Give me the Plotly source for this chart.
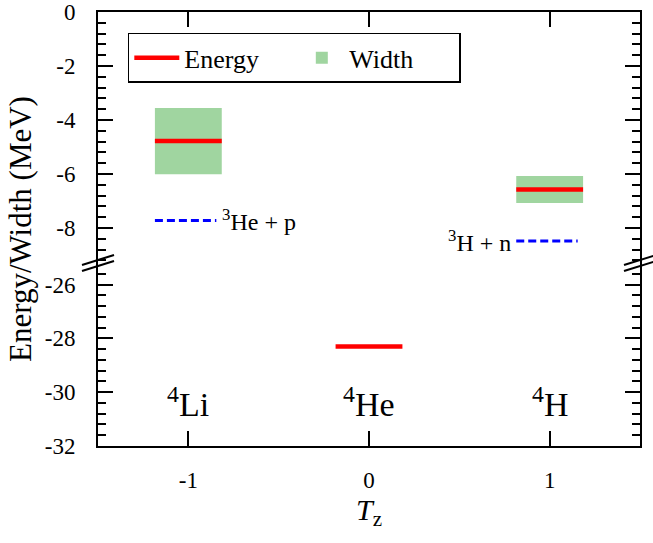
import plotly.graph_objects as go

# ---- data ----
nuclei = ["<sup>4</sup>Li", "<sup>4</sup>He", "<sup>4</sup>H"]
tz = [-1, 0, 1]
energy = [-4.78, -28.3, -6.57]
width = [2.45, 0.0, 1.0]
thr_labels = ["<sup>3</sup>He + p", "<sup>3</sup>H + n"]
thr_tz = [-1, 1]
thr_energy = [-7.72, -8.48]
y_ticks_top = [0, -2, -4, -6, -8]
y_ticks_bot = [-26, -28, -30, -32]
x_ticks = [-1, 0, 1]

BREAK = -10.0  # values below this go to the lower panel
HALF = 0.185   # half-width of level markers (in Tz units)

FONT = "Liberation Serif"
RED = "#ff0000"
GREEN = "rgb(160,213,160)"
BLUE = "#0000ff"

W, H = 653, 543
ML, MR, MT, MB = 98, 13, 12, 97
PW, PH = W - ML - MR, H - MT - MB
BREAK_PX = 263
split = 1 - (BREAK_PX - MT) / PH

fig = go.Figure()

# widths (boxes) - upper panel
bx = [t for t, w in zip(tz, width) if w > 0]
bw = [w for w in width if w > 0]
bb = [e - w / 2 for e, w in zip(energy, width) if w > 0]
fig.add_trace(go.Bar(x=bx, y=bw, base=bb, width=2 * HALF, name="Width",
                     marker=dict(color=GREEN, line=dict(width=0)),
                     xaxis="x", yaxis="y", legendrank=2, hoverinfo="skip"))

# energy levels
def seg(points):
    xs, ys = [], []
    for t, e in points:
        xs += [t - HALF, t + HALF, None]
        ys += [e, e, None]
    return xs, ys

up = [(t, e) for t, e in zip(tz, energy) if e > BREAK]
lo = [(t, e) for t, e in zip(tz, energy) if e <= BREAK]
xs, ys = seg(up)
fig.add_trace(go.Scatter(x=xs, y=ys, mode="lines", name="Energy",
                         line=dict(color=RED, width=4.5), xaxis="x", yaxis="y",
                         legendrank=1))
xs, ys = seg(lo)
fig.add_trace(go.Scatter(x=xs, y=ys, mode="lines", name="Energy", showlegend=False,
                         line=dict(color=RED, width=4.5), xaxis="x2", yaxis="y2"))

# thresholds
for lab, t, e in zip(thr_labels, thr_tz, thr_energy):
    x0 = t - HALF
    x1 = t + HALF - 0.03
    fig.add_trace(go.Scatter(x=[x0, x1], y=[e, e], mode="lines", showlegend=False,
                             line=dict(color=BLUE, width=3, dash="8px,4px"),
                             xaxis="x", yaxis="y"))
    if t < 0:
        fig.add_annotation(x=x1 + 0.02, y=e, xref="x", yref="y", text=lab,
                           showarrow=False, xanchor="left", yanchor="middle",
                           font=dict(family=FONT, size=24, color="black"))
    else:
        fig.add_annotation(x=x0 - 0.02, y=e, xref="x", yref="y", text=lab,
                           showarrow=False, xanchor="right", yanchor="middle",
                           font=dict(family=FONT, size=24, color="black"))

# nucleus labels
for lab, t in zip(nuclei, tz):
    fig.add_annotation(x=t, y=-30.35, xref="x2", yref="y2", text=lab,
                       showarrow=False, xanchor="center", yanchor="middle",
                       font=dict(family=FONT, size=34, color="black"))

# axis break marks
def px2paper(px, py):
    return (px - ML) / PW, 1 - (py - MT) / PH

for xc in (ML, ML + PW):
    for dy in (-3, 3):
        x0, y0 = px2paper(xc - 16, BREAK_PX + dy + 5)
        x1, y1 = px2paper(xc + 16, BREAK_PX + dy - 5)
        fig.add_shape(type="line", xref="paper", yref="paper",
                      x0=x0, y0=y0, x1=x1, y1=y1,
                      line=dict(color="black", width=2))

axis_common = dict(showline=True, linecolor="black", linewidth=2,
                   ticks="inside", tickcolor="black", tickwidth=2, ticklen=15,
                   showgrid=False, zeroline=False, automargin=False,
                   tickfont=dict(family=FONT, size=23, color="black"))

minor = dict(ticks="inside", dtick=0.4, tick0=0, ticklen=8, tickwidth=2,
             tickcolor="black", showgrid=False)

fig.update_layout(
    width=W, height=H,
    margin=dict(l=ML, r=MR, t=MT, b=MB, autoexpand=False),
    plot_bgcolor="white", paper_bgcolor="white",
    font=dict(family=FONT, color="black"),
    showlegend=True,
    legend=dict(orientation="h", x=0.055, y=0.952, xanchor="left", yanchor="top",
                bordercolor="black", borderwidth=1.5, bgcolor="white",
                font=dict(family=FONT, size=26, color="black"),
                itemwidth=45, traceorder="normal", entrywidth=105),
    xaxis=dict(domain=[0, 1], anchor="y", side="top", range=[-1.5, 1.5],
               tickvals=x_ticks, showticklabels=False, mirror=False,
               **axis_common),
    xaxis2=dict(domain=[0, 1], anchor="y2", side="bottom", range=[-1.5, 1.5],
                matches="x", tickvals=x_ticks, ticktext=[str(v) for v in x_ticks],
                ticklabelstandoff=12, mirror=False,
                title=dict(text="<i>T</i><sub>z</sub>", standoff=4,
                           font=dict(family=FONT, size=30, color="black")),
                **axis_common),
    yaxis=dict(domain=[split, 1], anchor="x", range=[-(BREAK_PX - MT) / 27.0, 0],
               tickvals=y_ticks_top, ticktext=[str(v) for v in y_ticks_top],
               mirror="ticks", minor=minor, ticklabelstandoff=16,
               **axis_common),
    yaxis2=dict(domain=[0, split], anchor="x2", range=[-32, -32 + (MT + PH - BREAK_PX) / 26.9],
                tickvals=y_ticks_bot, ticktext=[str(v) for v in y_ticks_bot],
                mirror="ticks", minor=minor, ticklabelstandoff=16,
                **axis_common),
    annotations=list(fig.layout.annotations) + [
        dict(text="Energy/Width (MeV)", xref="paper", yref="paper",
             x=(20 - ML) / PW, y=0.5, textangle=-90, showarrow=False,
             xanchor="center", yanchor="middle",
             font=dict(family=FONT, size=31, color="black"))
    ],
)

fig.write_html("out.html", config={"displayModeBar": False},
               post_script="document.body.style.margin='0';document.body.style.overflow='hidden';")
